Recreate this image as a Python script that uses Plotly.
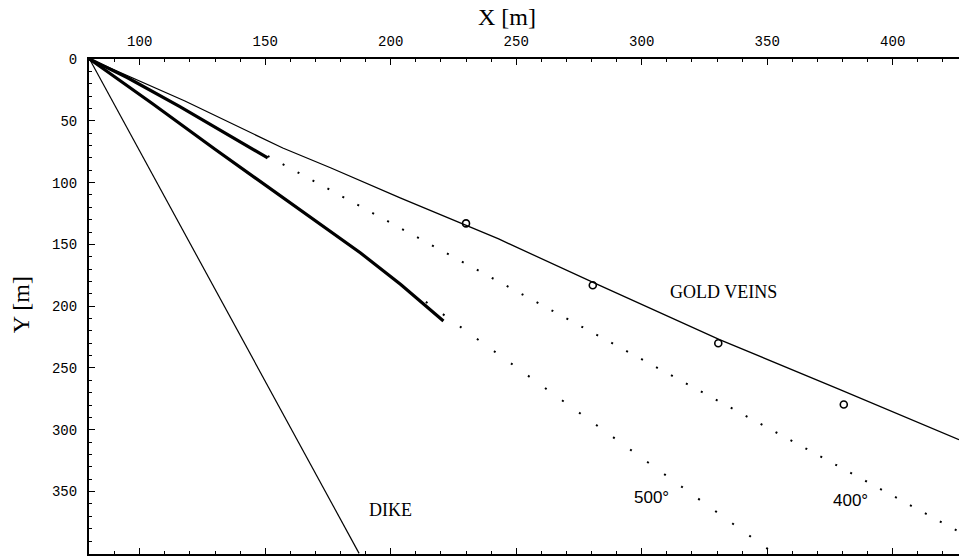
import plotly.graph_objects as go

# ---- data ----
gold_x = [80, 118, 157, 176, 204, 243, 283, 331, 379, 426.4]
gold_y = [0, 34, 72, 88, 112.5, 145.6, 183, 227, 267.5, 308]

obs_x = [230, 280.5, 330.5, 380.5]
obs_y = [133, 183, 230, 279.6]

thick1_x = [80, 95, 116, 136, 151]
thick1_y = [0, 15, 38.5, 62.5, 80]

thick2_x = [80, 105, 130, 164, 176, 188, 204, 212, 221]
thick2_y = [0, 36, 73, 122, 139.5, 157, 182.5, 196, 212]

dot400_x = [151, 426.4]
dot400_y = [78.5, 382.5]

dot500_x = [214, 353]
dot500_y = [196.5, 400.5]

dike_x = [80, 187.4]
dike_y = [0, 400]

x_ticks = [100, 150, 200, 250, 300, 350, 400]
y_ticks = [0, 50, 100, 150, 200, 250, 300, 350]

labels = [
    ("GOLD VEINS", 332.7, 188.8, "Liberation Serif", 18),
    ("DIKE", 199.9, 365.2, "Liberation Serif", 18),
    ("500°", 304, 354.7, "Liberation Sans", 17),
    ("400°", 383, 357, "Liberation Sans", 17),
]

fig = go.Figure()

fig.add_trace(go.Scatter(x=dike_x, y=dike_y, mode="lines",
                         line=dict(color="black", width=1.2)))
fig.add_trace(go.Scatter(x=gold_x, y=gold_y, mode="lines",
                         line=dict(color="black", width=1.3)))
fig.add_trace(go.Scatter(x=dot400_x, y=dot400_y, mode="lines",
                         line=dict(color="black", width=2, dash="2px,15px")))
fig.add_trace(go.Scatter(x=dot500_x, y=dot500_y, mode="lines",
                         line=dict(color="black", width=2, dash="2px,19px")))
fig.add_trace(go.Scatter(x=thick1_x, y=thick1_y, mode="lines",
                         line=dict(color="black", width=3.2)))
fig.add_trace(go.Scatter(x=thick2_x, y=thick2_y, mode="lines",
                         line=dict(color="black", width=3.2)))
fig.add_trace(go.Scatter(x=obs_x, y=obs_y, mode="markers",
                         marker=dict(symbol="circle-open", size=7, color="black",
                                     line=dict(width=1.6, color="black"))))

for text, x, y, fam, sz in labels:
    fig.add_annotation(x=x, y=y, xref="x", yref="y", text=text, showarrow=False,
                       font=dict(family=fam, size=sz, color="black"))

tickfont = dict(family="Liberation Mono", size=14, color="black")

fig.update_xaxes(side="top", range=[79.8, 426.4], tickvals=x_ticks,
                 ticks="inside", ticklen=6, tickwidth=1.2, tickcolor="black",
                 minor=dict(dtick=10, tick0=0, ticks="inside", ticklen=3,
                            tickwidth=1.2, tickcolor="black"),
                 showline=True, linecolor="black", linewidth=2, mirror="ticks",
                 showgrid=False, zeroline=False, tickfont=tickfont,
                 ticklabelstandoff=5, automargin=False)
fig.update_yaxes(range=[400.5, 0], tickvals=y_ticks,
                 ticks="inside", ticklen=6, tickwidth=1.2, tickcolor="black",
                 minor=dict(dtick=10, tick0=0, ticks="inside", ticklen=3,
                            tickwidth=1.2, tickcolor="black"),
                 showline=True, linecolor="black", linewidth=2,
                 showgrid=False, zeroline=False, tickfont=tickfont,
                 ticklabelstandoff=7, automargin=False)

fig.add_annotation(x=0.4805, y=1.0848, xref="paper", yref="paper", text="X [m]",
                   xanchor="center", yanchor="middle", showarrow=False,
                   font=dict(family="Liberation Serif", size=24, color="black"))
fig.add_annotation(x=-0.078, y=0.503, xref="paper", yref="paper", text="Y [m]",
                   xanchor="center", yanchor="middle",
                   textangle=-90, showarrow=False,
                   font=dict(family="Liberation Serif", size=24, color="black"))

fig.update_layout(width=959, height=556, showlegend=False,
                  margin=dict(l=89, r=0, t=59, b=2, autoexpand=False),
                  plot_bgcolor="white", paper_bgcolor="white")

fig.write_html("out.html", config={"displayModeBar": False},
               post_script="document.body.style.margin='0px';"
                           "document.body.style.overflow='hidden';")
